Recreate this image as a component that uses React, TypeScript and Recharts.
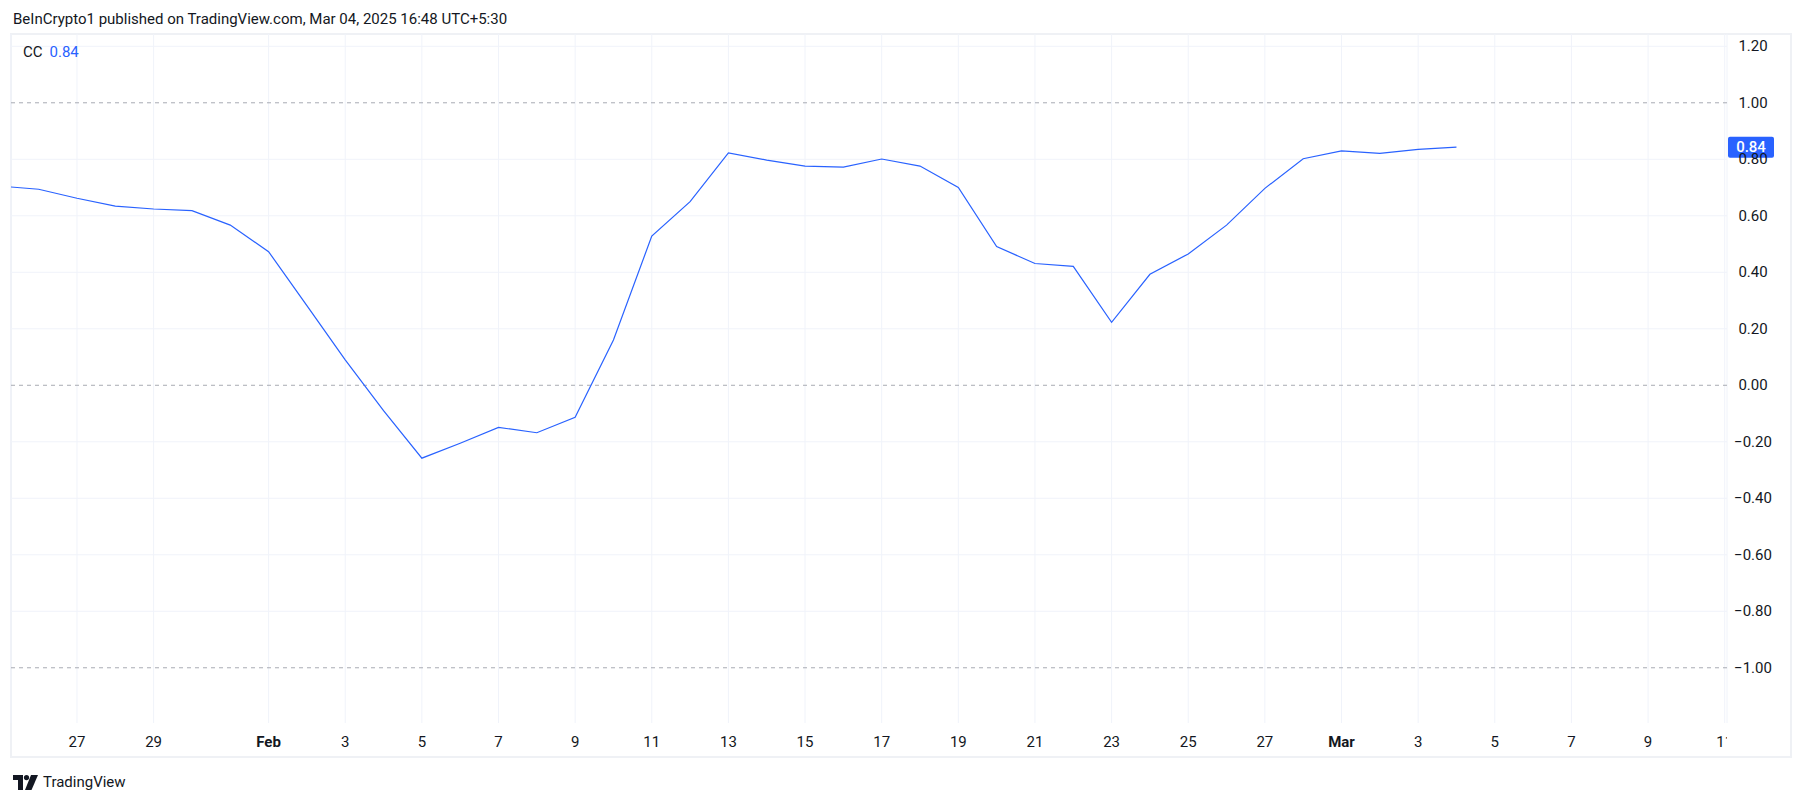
import { CartesianGrid, Line, LineChart, ReferenceLine, XAxis, YAxis } from "recharts";

// CC indicator, daily closes
const dates = [
  "2025-01-25", "2025-01-26", "2025-01-27", "2025-01-28", "2025-01-29", "2025-01-30", "2025-01-31",
  "2025-02-01", "2025-02-02", "2025-02-03", "2025-02-04", "2025-02-05", "2025-02-06", "2025-02-07",
  "2025-02-08", "2025-02-09", "2025-02-10", "2025-02-11", "2025-02-12", "2025-02-13", "2025-02-14",
  "2025-02-15", "2025-02-16", "2025-02-17", "2025-02-18", "2025-02-19", "2025-02-20", "2025-02-21",
  "2025-02-22", "2025-02-23", "2025-02-24", "2025-02-25", "2025-02-26", "2025-02-27", "2025-02-28",
  "2025-03-01", "2025-03-02", "2025-03-03", "2025-03-04",
];
const ccValues = [
  0.705, 0.694, 0.662, 0.634, 0.624, 0.618, 0.567,
  0.473, 0.282, 0.09, -0.09, -0.258, -0.205, -0.149,
  -0.168, -0.113, 0.16, 0.528, 0.65, 0.823, 0.797,
  0.776, 0.772, 0.801, 0.776, 0.7, 0.491, 0.431,
  0.421, 0.223, 0.393, 0.465, 0.567, 0.697, 0.802,
  0.83, 0.821, 0.835, 0.843,
];

const tickDates = [
  "2025-01-27", "2025-01-29", "2025-02-01", "2025-02-03", "2025-02-05", "2025-02-07", "2025-02-09",
  "2025-02-11", "2025-02-13", "2025-02-15", "2025-02-17", "2025-02-19", "2025-02-21", "2025-02-23",
  "2025-02-25", "2025-02-27", "2025-03-01", "2025-03-03", "2025-03-05", "2025-03-07", "2025-03-09",
  "2025-03-11",
];
const tickLabels = [
  "27", "29", "Feb", "3", "5", "7", "9", "11", "13", "15", "17", "19", "21", "23", "25", "27",
  "Mar", "3", "5", "7", "9", "11",
];

const priceTicks = [1.2, 1, 0.8, 0.6, 0.4, 0.2, 0, -0.2, -0.4, -0.6, -0.8, -1];
const levelLines = [1, 0, -1];

const ORIGIN = "2025-01-27";
const dayIndex = (d: string) => (Date.parse(d) - Date.parse(ORIGIN)) / 86400000;

const data = dates.map((d, i) => ({ day: dayIndex(d), cc: ccValues[i] }));
const tickDays = tickDates.map(dayIndex);
const labelByDay = new Map(tickDays.map((d, i) => [d, tickLabels[i]]));
const lastValue = ccValues[ccValues.length - 1];

const W = 1805;
const H = 803;
const MARGIN = { top: 34, right: 12, left: 11, bottom: 44 };
const Y_AXIS_W = 66;
const X_AXIS_H = 36;
const PLOT_RIGHT = W - MARGIN.right - Y_AXIS_W;

const FONT = "Roboto, 'Noto Sans', sans-serif";
const TEXT = "#131722";
const BLUE = "#2962ff";

const fmt = (v: number) => (v < 0 ? "\u2212" : "") + Math.abs(v).toFixed(2);

function TimeTick({ x, y, payload }: any) {
  const label = labelByDay.get(payload.value) ?? "";
  const bold = label === "Feb" || label === "Mar";
  return (
    <g>
      <defs>
        <clipPath id="time-clip">
          <rect x={MARGIN.left} y={0} width={PLOT_RIGHT - MARGIN.left} height={H} />
        </clipPath>
      </defs>
      <text
        x={x}
        y={y + 24}
        textAnchor="middle"
        fill={TEXT}
        fontSize={15}
        fontWeight={bold ? 700 : 400}
        fontFamily={FONT}
        clipPath="url(#time-clip)"
      >
        {label}
      </text>
    </g>
  );
}

function PriceTick({ x, y, payload }: any) {
  return (
    <text x={x + 26} y={y + 5} textAnchor="middle" fill={TEXT} fontSize={15} fontFamily={FONT}>
      {fmt(payload.value)}
    </text>
  );
}

function LastBadge({ viewBox }: any) {
  const bx = viewBox.x + viewBox.width + 1;
  const cy = viewBox.y;
  return (
    <g>
      <rect x={bx} y={cy - 10.5} width={46} height={21} rx={2} fill={BLUE} />
      <text x={bx + 23} y={cy + 5} textAnchor="middle" fill="#ffffff" fontSize={15} fontWeight={500} fontFamily={FONT}>
        {lastValue.toFixed(2)}
      </text>
    </g>
  );
}

function TvLogo() {
  return (
    <svg width={25} height={15} viewBox="0 0 25 15" style={{ display: "block" }}>
      <path d="M0 0 H10 V15 H5 V5 H0 Z" fill={TEXT} />
      <circle cx={13.5} cy={2.6} r={2.6} fill={TEXT} />
      <path d="M18 0 H25 L18.5 15 H12 Z" fill={TEXT} />
    </svg>
  );
}

export default function App() {
  return (
    <div style={{ position: "absolute", left: 0, top: 0, width: W, height: H, background: "#ffffff", fontFamily: FONT }}>
      <div style={{ position: "absolute", left: 13, top: 10, fontSize: 15, color: TEXT, whiteSpace: "nowrap" }}>
        BeInCrypto1 published on TradingView.com, Mar 04, 2025 16:48 UTC+5:30
      </div>
      <div
        style={{
          position: "absolute",
          left: MARGIN.left - 1,
          top: MARGIN.top - 1,
          width: W - MARGIN.right - MARGIN.left,
          height: H - MARGIN.bottom - MARGIN.top,
          border: "2px solid #eff1f5",
          boxSizing: "border-box",
        }}
      />
      <div style={{ position: "absolute", left: 0, top: 0 }}>
        <LineChart width={W} height={H} data={data} margin={MARGIN}>
          <CartesianGrid
            stroke="#f0f3fa"
            strokeWidth={1}
            horizontalValues={priceTicks.filter((t) => !levelLines.includes(t))}
          />
          <XAxis
            dataKey="day"
            type="number"
            domain={[-1.722, 43.06]}
            allowDataOverflow
            ticks={tickDays}
            interval={0}
            axisLine={false}
            tickLine={false}
            tickSize={0}
            tickMargin={0}
            height={X_AXIS_H}
            tick={<TimeTick />}
          />
          <YAxis
            orientation="right"
            type="number"
            domain={[-1.1955, 1.2435]}
            allowDataOverflow
            ticks={priceTicks}
            interval={0}
            axisLine={false}
            tickLine={false}
            tickSize={0}
            tickMargin={0}
            width={Y_AXIS_W}
            tick={<PriceTick />}
          />
          {levelLines.map((v) => (
            <ReferenceLine key={v} y={v} stroke="#a8abb3" strokeWidth={1} strokeDasharray="4 4" />
          ))}
          <Line
            type="linear"
            dataKey="cc"
            stroke={BLUE}
            strokeWidth={1.2}
            dot={false}
            activeDot={false}
            isAnimationActive={false}
          />
          <ReferenceLine y={lastValue} stroke="none" label={<LastBadge />} />
        </LineChart>
      </div>
      <div style={{ position: "absolute", left: 13, top: 775, display: "flex", alignItems: "center", gap: 5 }}>
        <TvLogo />
        <span style={{ fontSize: 15, color: TEXT, lineHeight: "15px" }}>TradingView</span>
      </div>
      <div style={{ position: "absolute", left: 23, top: 43, fontSize: 15, whiteSpace: "nowrap" }}>
        <span style={{ color: TEXT }}>CC</span>
        <span style={{ color: BLUE, marginLeft: 7 }}>{lastValue.toFixed(2)}</span>
      </div>
    </div>
  );
}
